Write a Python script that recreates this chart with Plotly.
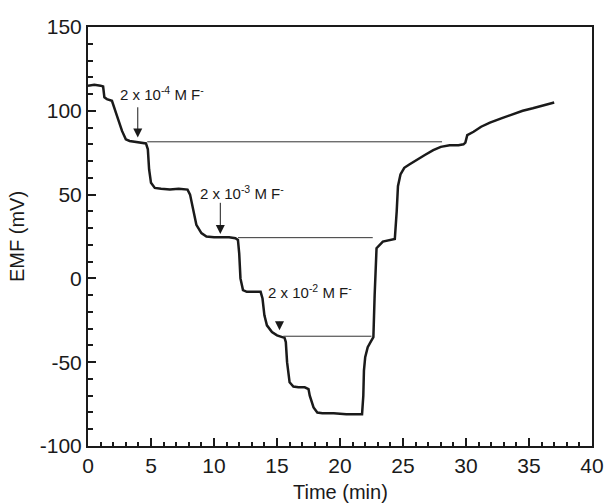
import plotly.graph_objects as go

# Time (min) and EMF (mV)
time_min = [0, 0.5, 1.0, 1.2, 1.3, 1.5, 1.9, 2.0, 2.3, 2.7, 3.0, 3.3, 3.8, 4.3, 4.6, 4.75, 4.85,
            5.0, 5.3, 5.8, 6.5, 7.2, 7.9, 8.1, 8.3, 8.6, 9.0, 9.4, 10.0, 10.6, 11.2, 11.7, 11.9,
            12.0, 12.1, 12.3, 12.6, 13.2, 13.7, 13.85, 14.0, 14.2, 14.6, 15.0, 15.4, 15.6, 15.7,
            15.8, 16.0, 16.3, 16.7, 17.2, 17.5, 17.6, 17.9, 18.2, 18.6, 19.5, 20.5, 21.4, 21.75,
            21.85, 21.9, 22.0, 22.2, 22.5, 22.65, 22.75, 22.9, 23.4, 24.0, 24.35, 24.5, 24.6, 24.8,
            25.1, 25.5, 26.0, 26.7, 27.4, 28.0, 28.7, 29.4, 29.8, 29.95, 30.1, 30.6, 31.2, 31.9,
            32.8, 33.7, 34.5, 35.3, 36.2, 37.0]
emf_mv = [115, 115.5, 115, 114.5, 108, 107, 106, 104, 97, 88, 83, 82, 81.5, 81, 80.5, 77, 65,
          57, 54, 53.5, 53, 53.5, 53, 50, 42, 32, 27, 25, 24.5, 24.5, 24.5, 24, 23,
          15, 0, -7, -8, -8, -8, -12, -22, -28, -32, -34, -35, -35.5, -38,
          -50, -62, -64.5, -65, -65, -66, -70, -77, -80, -80.5, -80.5, -81, -81, -81,
          -70, -55, -47, -41, -37, -35, -10, 18, 22, 23, 23.5, 40, 55, 62,
          66, 68, 70.5, 73.5, 76.5, 78.5, 79.5, 79.5, 80, 81, 85.5, 87.5, 90.5, 93,
          95.5, 98, 100, 101.5, 103.5, 105]

# Reference (plateau) lines: start time, end time, level
ref_start = [4.7, 11.9, 15.5]
ref_end = [28.1, 22.6, 22.5]
ref_level = [81.5, 24.3, -34.5]

# Addition arrows: x, tip y, tail y; label x, label y, label text
arrow_x = [3.95, 10.5, 15.2]
arrow_tip = [84, 26.5, -31]
arrow_tail = [103, 46, -25]
label_x = [5.9, 12.2, 17.6]
label_y = [110.5, 51, -7.7]
label_text = ["2 x 10<sup>-4</sup> M F<sup>-</sup>",
              "2 x 10<sup>-3</sup> M F<sup>-</sup>",
              "2 x 10<sup>-2</sup> M F<sup>-</sup>"]

x_ticks = [0, 5, 10, 15, 20, 25, 30, 35, 40]
x_labels = ["0", "5", "10", "15", "20", "25", "30", "35", "40"]
y_ticks = [-100, -50, 0, 50, 100, 150]
y_labels = ["-100", "-50", "0", "50", "100", "150"]
x_title = "Time (min)"
y_title = "EMF (mV)"

FONT = "Liberation Sans, Arial, sans-serif"
INK = "#1a1a1a"

fig = go.Figure()
fig.add_trace(go.Scatter(x=time_min, y=emf_mv, mode="lines",
                         line=dict(color=INK, width=2.5), showlegend=False))

for xs, xe, lv in zip(ref_start, ref_end, ref_level):
    fig.add_shape(type="line", x0=xs, x1=xe, y0=lv, y1=lv, xref="x", yref="y",
                  line=dict(color="#333333", width=1))

for ax_, tip, tail in zip(arrow_x, arrow_tip, arrow_tail):
    fig.add_annotation(x=ax_, y=tip, ax=ax_, ay=tail, xref="x", yref="y",
                       axref="x", ayref="y", text="", showarrow=True,
                       arrowhead=2, arrowsize=1.8, arrowwidth=1, arrowcolor=INK)

for lx, ly, lt in zip(label_x, label_y, label_text):
    fig.add_annotation(x=lx, y=ly, xref="x", yref="y", text=lt, showarrow=False,
                       font=dict(family=FONT, size=15, color=INK))

# x-axis title as a paper annotation so it sits fully inside the page
fig.add_annotation(x=0.5, y=0, xref="paper", yref="paper", text=x_title,
                   showarrow=False, yanchor="middle", yshift=-46,
                   font=dict(family=FONT, size=20, color=INK))

axis_common = dict(showline=True, linecolor=INK, linewidth=2, mirror=True,
                   ticks="inside", tickcolor=INK, tickwidth=2, ticklen=8,
                   showgrid=False, zeroline=False,
                   tickfont=dict(family=FONT, size=21, color=INK),
                   title_font=dict(family=FONT, size=20, color=INK))

fig.update_xaxes(range=[0, 40], tickvals=x_ticks, ticktext=x_labels,
                 minor=dict(dtick=1, ticks="inside", ticklen=4, tickwidth=2, tickcolor=INK),
                 **axis_common)
fig.update_yaxes(range=[-100, 150], tickvals=y_ticks, ticktext=y_labels, title_text=y_title,
                 minor=dict(dtick=10, ticks="inside", ticklen=5, tickwidth=2, tickcolor=INK),
                 title_standoff=10, **axis_common)

fig.update_layout(width=616, height=504, plot_bgcolor="white", paper_bgcolor="white",
                  margin=dict(l=88, r=16, t=27, b=58), font=dict(family=FONT, color=INK))

fig.write_html("out.html", config={"displayModeBar": False},
               post_script="document.body.style.margin='0';document.body.style.overflow='hidden';")
